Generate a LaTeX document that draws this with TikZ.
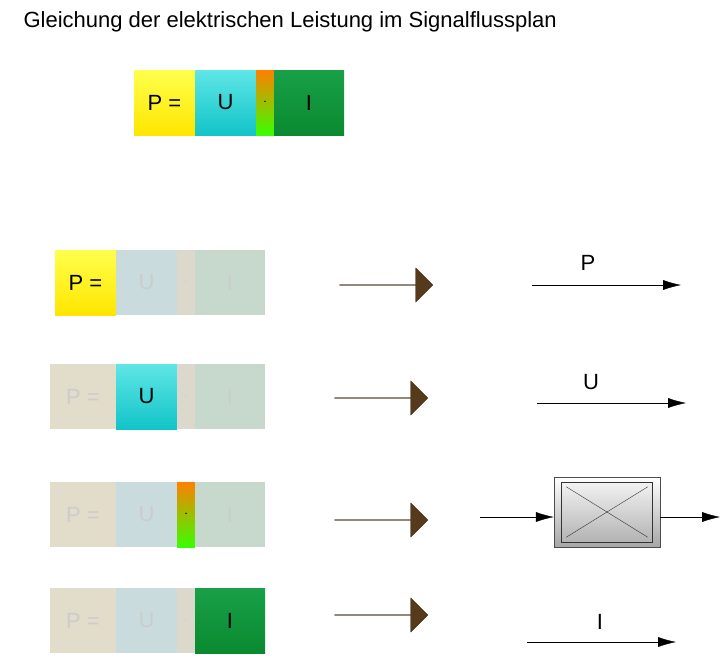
\documentclass[tikz,border=0pt]{standalone}
\usepackage{fontspec}
\setmainfont{Liberation Sans}
\usetikzlibrary{shapes.arrows,arrows.meta}
\definecolor{arrbrown}{HTML}{553A1C}
\definecolor{fP}{HTML}{E2DDCA}
\definecolor{fU}{HTML}{C9DBDD}
\definecolor{fD}{HTML}{DDD8CC}
\definecolor{fI}{HTML}{C6D9CC}
\definecolor{cyt}{HTML}{5FE6E6}
\definecolor{cyb}{HTML}{12C4C8}
\definecolor{grt}{HTML}{18A048}
\definecolor{grb}{HTML}{0A8A30}
\begin{document}
\begin{tikzpicture}[x=1pt,y=-1pt,
  cell/.style={minimum height=65pt,inner sep=0pt,outer sep=0pt,font=\fontsize{22}{24}\selectfont},
  pcell/.style={cell,minimum width=61pt,top color=yellow!70!white,bottom color=orange!20!yellow},
  ucell/.style={cell,minimum width=61pt,top color=cyt,bottom color=cyb},
  dcell/.style={cell,minimum width=18pt,top color=orange,bottom color=green!70!lime,font=\Large},
  icell/.style={cell,minimum width=70pt,top color=grt,bottom color=grb},
  fpcell/.style={cell,minimum width=66pt,fill=fP,text=black!20},
  fucell/.style={cell,minimum width=61pt,fill=fU,text=black!20},
  fdcell/.style={cell,minimum width=18pt,fill=fD,text=black!20,font=\Large},
  ficell/.style={cell,minimum width=70pt,fill=fI,text=black!20},
  bigarrow/.style={single arrow,draw=arrbrown!80!black,fill=arrbrown,minimum width=34pt,single arrow head extend=7pt,single arrow head indent=0pt,minimum height=93pt,inner sep=0pt},
  sig/.style={-{Latex[length=18pt,width=10pt]},thin},
  lab/.style={font=\fontsize{22}{24}\selectfont}]
\useasboundingbox (0,0) rectangle (728,659);
\node[anchor=west,font=\fontsize{22}{24}\selectfont] (title) at (20,22) {Gleichung der elektrischen Leistung im Signalflussplan};
% top equation
\node[pcell,anchor=north west] (tp) at (134,70) {P =};
\node[ucell,anchor=north west] (tu) at (tp.north east) {U};
\node[dcell,anchor=north west] (td) at (tu.north east) {$\cdot$};
\node[icell,anchor=north west] (ti) at (td.north east) {I};
% row 1
\node[pcell,anchor=north west] (ap) at (55,250) {P =};
\node[fucell,anchor=north west] (au) at (ap.north east) {U};
\node[fdcell,anchor=north west] (ad) at (au.north east) {$\cdot$};
\node[ficell,anchor=north west] (ai) at (ad.north east) {I};
\node[bigarrow] (aa) at (386,285) {};
\coordinate (a1) at (532,285); \coordinate (a2) at (681,285);
\draw[sig] (a1) -- (a2);
\node[lab] (al) at (588,263) {P};
% row 2
\node[fpcell,anchor=north west] (bp) at (50,364) {P =};
\node[ucell,anchor=north west] (bu) at (bp.north east) {U};
\node[fdcell,anchor=north west] (bd) at (bu.north east) {$\cdot$};
\node[ficell,anchor=north west] (bi) at (bd.north east) {I};
\node[bigarrow] (ba) at (381,398) {};
\coordinate (b1) at (537,403); \coordinate (b2) at (686,403);
\draw[sig] (b1) -- (b2);
\node[lab] (bl) at (591,382) {U};
% row 3
\node[fpcell,anchor=north west] (cp) at (50,482) {P =};
\node[fucell,anchor=north west] (cu) at (cp.north east) {U};
\node[dcell,anchor=north west] (cd) at (cu.north east) {$\cdot$};
\node[ficell,anchor=north west] (ci) at (cd.north east) {I};
\node[bigarrow] (ca) at (381,520) {};
\node[draw=black!70,minimum width=106pt,minimum height=70pt,top color=white,bottom color=black!35,inner sep=0pt] (blk) at (607,512) {};
\node[draw=black!80,minimum width=91pt,minimum height=60pt,top color=black!5,bottom color=black!30,inner sep=0pt] (blki) at (607,512) {};
\draw[black!80] ([shift={(5,5)}]blki.north west) -- ([shift={(-5,-5)}]blki.south east);
\draw[black!80] ([shift={(-5,5)}]blki.north east) -- ([shift={(5,-5)}]blki.south west);
\coordinate (cin) at (480,517); \coordinate (cout) at (720,517);
\draw[sig] (cin) -- (cin -| blk.west);
\draw[sig] (cout -| blk.east) -- (cout);
% row 4
\node[fpcell,anchor=north west] (dp) at (50,588) {P =};
\node[fucell,anchor=north west] (du) at (dp.north east) {U};
\node[fdcell,anchor=north west] (dd) at (du.north east) {$\cdot$};
\node[icell,anchor=north west] (di) at (dd.north east) {I};
\node[bigarrow] (da) at (381,615) {};
\coordinate (d1) at (527,642); \coordinate (d2) at (676,642);
\draw[sig] (d1) -- (d2);
\node[lab] (dl) at (600,622) {I};
\end{tikzpicture}
\end{document}
